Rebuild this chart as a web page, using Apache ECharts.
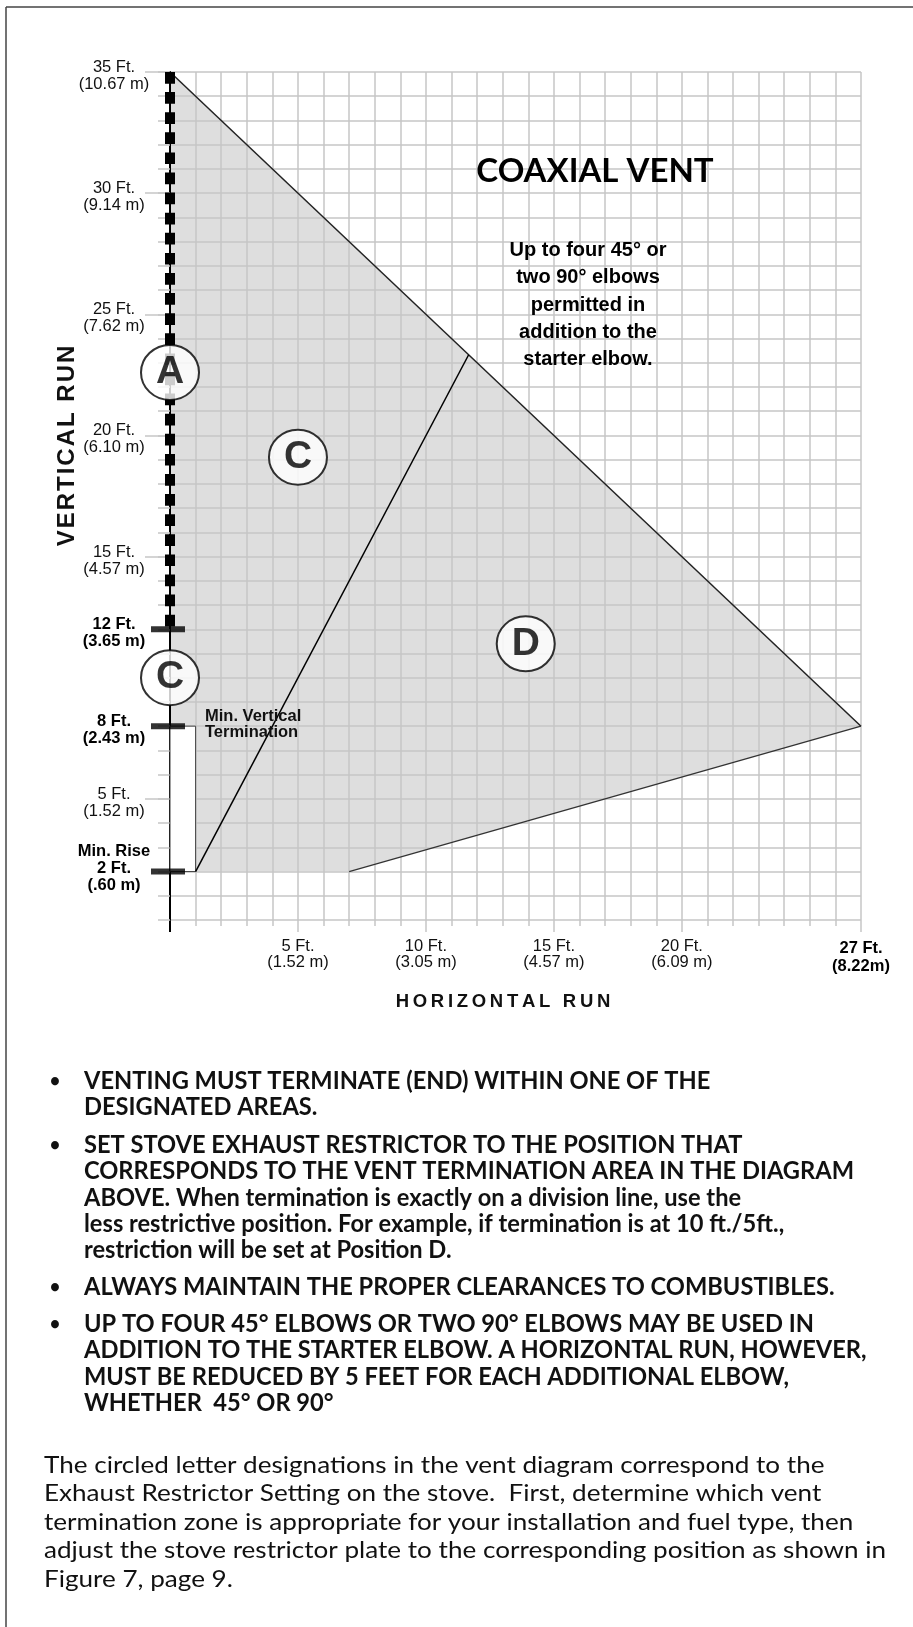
<!DOCTYPE html>
<html>
<head>
<meta charset="utf-8">
<title>Coaxial Vent</title>
<script src="https://cdn.jsdelivr.net/npm/echarts@6/dist/echarts.min.js"></script>
<style>
  html, body { margin: 0; padding: 0; background: #fff; }
  #chart { width: 913px; height: 1627px; }
</style>
</head>
<body>
<div id="chart"></div>
<script>
// vertical run labels (feet + metres)
var yLabelFt = [35, 30, 25, 20, 15, 12, 8, 5, 2];
var yLabelM = ['10.67 m', '9.14 m', '7.62 m', '6.10 m', '4.57 m', '3.65 m', '2.43 m', '1.52 m', '.60 m'];
var yMajorTicks = [35, 30, 25, 20, 15, 5];
// horizontal run labels
var xLabelFt = [5, 10, 15, 20, 27];
var xLabelM = ['1.52 m', '3.05 m', '4.57 m', '6.09 m', '8.22m'];
var xMajorTicks = [5, 10, 15, 20, 27];

// shaded termination area, in feet
var areaX = [0, 27, 7, 1, 1, 0];
var areaY = [35, 8, 2, 2, 8, 8];
// upper limit line
var limitX = [0, 27];
var limitY = [35, 8];
// lower limit line
var lowerX = [7, 27];
var lowerY = [2, 8];
// C / D division line
var divideX = [1, 11.67];
var divideY = [2, 23.33];
// min. vertical termination box
var minTermX = [0, 1];
var minTermY = [2, 8];
// zone A on the vertical run
var zoneAY = [35, 12];
// heavy marks on the vertical run
var heavyTicks = [12, 8, 2];
// circled letters
var circleLetters = ['A', 'C', 'C', 'D'];
var circleX = [0, 0, 5, 13.9];
var circleY = [22.6, 10, 19.1, 11.4];

var noteLines = ['Up to four 45\u00b0 or', 'two 90\u00b0 elbows', 'permitted in', 'addition to the', 'starter elbow.'];
var bullets = [
  ['VENTING MUST TERMINATE (END) WITHIN ONE OF THE', 'DESIGNATED AREAS.'],
  ['SET STOVE EXHAUST RESTRICTOR TO THE POSITION THAT',
   'CORRESPONDS TO THE VENT TERMINATION AREA IN THE DIAGRAM',
   'ABOVE. When termination is exactly on a division line, use the',
   'less restrictive position. For example, if termination is at 10 ft./5ft.,',
   'restriction will be set at Position D.'],
  ['ALWAYS MAINTAIN THE PROPER CLEARANCES TO COMBUSTIBLES.'],
  ['UP TO FOUR 45\u00b0 ELBOWS OR TWO 90\u00b0 ELBOWS MAY BE USED IN',
   'ADDITION TO THE STARTER ELBOW. A HORIZONTAL RUN, HOWEVER,',
   'MUST BE REDUCED BY 5 FEET FOR EACH ADDITIONAL ELBOW,',
   'WHETHER  45\u00b0 OR 90\u00b0']
];
var paragraph = [
  'The circled letter designations in the vent diagram correspond to the',
  'Exhaust Restrictor Setting on the stove.  First, determine which vent',
  'termination zone is appropriate for your installation and fuel type, then',
  'adjust the stove restrictor plate to the corresponding position as shown in',
  'Figure 7, page 9.'
];

var gridColor = '#c6c6c6';
var labelFont = '"Liberation Sans", Arial, sans-serif';
var bodyFont = 'Lato, "Open Sans", sans-serif';

function zip(xs, ys) {
  return xs.map(function (x, i) { return [x, ys[i]]; });
}

function yLabel(v) {
  var i = yLabelFt.indexOf(v);
  if (i < 0) return '';
  var t = heavyTicks.indexOf(v) >= 0 ? 'b' : 'r';
  var s = '{' + t + '|' + v + ' Ft.}\n{' + t + '|(' + yLabelM[i] + ')}';
  if (v === 2) s = '{b|Min. Rise}\n' + s + '\n{gap| }';
  return s;
}

function xLabel(v) {
  var i = xLabelFt.indexOf(v);
  if (i < 0) return '';
  var t = v === 27 ? 'b' : 'r';
  return '{' + t + '|' + v + ' Ft.}\n{' + t + '|(' + xLabelM[i] + ')}';
}

function spaced(str, sep) {
  return str.split('').join(sep);
}

var myChart = echarts.init(document.getElementById('chart'));

var graphics = [
  { type: 'line', shape: { x1: 6, y1: 7, x2: 913, y2: 7 }, style: { stroke: '#444', lineWidth: 1.5 } },
  { type: 'line', shape: { x1: 6, y1: 7, x2: 6, y2: 1627 }, style: { stroke: '#444', lineWidth: 1.5 } },
  { type: 'text', x: 595, y: 171, z: 10,
    style: { text: 'COAXIAL VENT', fontSize: 33, fontWeight: 'bold', fontFamily: bodyFont,
             fill: '#000', align: 'center', verticalAlign: 'middle' } },
  { type: 'text', x: 588, y: 237, z: 10,
    style: { text: noteLines.join('\n'), fontSize: 20, fontWeight: 'bold', fontFamily: labelFont,
             lineHeight: 27.3, fill: '#000', align: 'center', verticalAlign: 'top' } },
  { type: 'text', x: 205, y: 708, z: 10,
    style: { text: 'Min. Vertical\nTermination', fontSize: 16.5, fontWeight: 'bold', fontFamily: labelFont,
             lineHeight: 16.5, fill: '#111', align: 'left', verticalAlign: 'top' } },
  { type: 'text', x: 67, y: 446, rotation: Math.PI / 2, z: 10,
    style: { text: spaced('VERTICAL RUN', '\u200A'), fontSize: 24, fontWeight: 'bold', fontFamily: labelFont,
             fill: '#111', align: 'center', verticalAlign: 'middle' } },
  { type: 'text', x: 503, y: 1002, z: 10,
    style: { text: spaced('HORIZONTAL RUN', '\u2009'), fontSize: 18.5, fontWeight: 'bold', fontFamily: labelFont,
             fill: '#111', align: 'center', verticalAlign: 'middle' } }
];

var bulletTops = [1081, 1145, 1287, 1324];
bullets.forEach(function (lines, i) {
  graphics.push({ type: 'text', x: 55, y: bulletTops[i], z: 10,
    style: { text: '\u2022', fontSize: 18, fontWeight: 'bold', fontFamily: bodyFont,
             fill: '#111', align: 'center', verticalAlign: 'middle' } });
  graphics.push({ type: 'text', x: 84, y: bulletTops[i] - 13.2, z: 10, scaleX: 0.985,
    style: { text: lines.join('\n'), fontSize: 24, fontWeight: 'bold', fontFamily: bodyFont,
             lineHeight: 26.4, fill: '#111', align: 'left', verticalAlign: 'top' } });
});
graphics.push({ type: 'text', x: 44, y: 1465 - 14.25, z: 10, scaleX: 1.087,
  style: { text: paragraph.join('\n'), fontSize: 24, fontFamily: bodyFont,
           lineHeight: 28.5, fill: '#111', align: 'left', verticalAlign: 'top' } });

var option = {
  animation: false,
  backgroundColor: '#fff',
  grid: { left: 170, top: 72, width: 691, height: 848 },
  xAxis: [
    {
      type: 'value', position: 'bottom', min: 0, max: 27, interval: 1,
      axisLine: { show: false },
      axisTick: { show: true, length: 6, lineStyle: { color: gridColor, width: 1.5 } },
      splitLine: { show: true, lineStyle: { color: gridColor, width: 1.5 } },
      axisLabel: {
        customValues: xLabelFt, formatter: xLabel, margin: 19,
        rich: {
          r: { fontSize: 16.5, lineHeight: 15.5, fontFamily: labelFont, color: '#111' },
          b: { fontSize: 16.5, lineHeight: 18, fontWeight: 'bold', fontFamily: labelFont, color: '#000' }
        }
      }
    },
    {
      type: 'value', position: 'bottom', min: 0, max: 27, interval: 1,
      axisLine: { show: false }, splitLine: { show: false }, axisLabel: { show: false },
      axisTick: { show: true, customValues: xMajorTicks, length: 12, lineStyle: { color: gridColor, width: 1.5 } }
    },
    {
      type: 'value', position: 'bottom', min: 0, max: 27, interval: 1,
      axisLine: { show: false }, splitLine: { show: false }, axisLabel: { show: false },
      axisTick: { show: true, customValues: [0], length: 12, lineStyle: { color: '#000', width: 2 } }
    }
  ],
  yAxis: [
    {
      type: 'value', position: 'left', min: 0, max: 35, interval: 1, z: 1,
      axisLine: { show: true, lineStyle: { color: '#000', width: 2 } },
      axisTick: { show: true, length: 12, lineStyle: { color: gridColor, width: 1.5 } },
      splitLine: { show: true, lineStyle: { color: gridColor, width: 1.5 } },
      axisLabel: {
        customValues: yLabelFt, formatter: yLabel, align: 'center', margin: 56,
        padding: [8, 0, 0, 0],
        rich: {
          r: { fontSize: 16.5, lineHeight: 17, fontFamily: labelFont, color: '#111', align: 'center' },
          b: { fontSize: 16.5, lineHeight: 17, fontWeight: 'bold', fontFamily: labelFont, color: '#000', align: 'center' },
          gap: { fontSize: 10, lineHeight: 15 }
        }
      }
    },
    {
      type: 'value', position: 'left', min: 0, max: 35, interval: 1,
      axisLine: { show: false }, splitLine: { show: false }, axisLabel: { show: false },
      axisTick: { show: true, customValues: yMajorTicks, length: 25, lineStyle: { color: gridColor, width: 1.5 } }
    }
  ],
  series: [
    {
      // shaded area, under the grid lines
      type: 'custom', z: -1, silent: true,
      data: [[0, 0]],
      renderItem: function (params, api) {
        return {
          type: 'polygon',
          shape: { points: areaX.map(function (x, i) { return api.coord([x, areaY[i]]); }) },
          style: { fill: '#dedede' }
        };
      }
    },
    {
      // min. vertical termination box
      type: 'custom', z: 3, silent: true,
      data: [[0, 0]],
      renderItem: function (params, api) {
        var p0 = api.coord([minTermX[0], minTermY[1]]);
        var p1 = api.coord([minTermX[1], minTermY[0]]);
        return {
          type: 'rect',
          shape: { x: p0[0], y: p0[1], width: p1[0] - p0[0], height: p1[1] - p0[1] },
          style: { fill: '#fff', stroke: '#444', lineWidth: 1 }
        };
      }
    },
    {
      type: 'line', z: 4, symbol: 'none', clip: false,
      data: zip(limitX, limitY),
      lineStyle: { color: '#222', width: 1.5 }
    },
    {
      type: 'line', z: 4, symbol: 'none', clip: false,
      data: zip(lowerX, lowerY),
      lineStyle: { color: '#333', width: 1.3 }
    },
    {
      type: 'line', z: 4, symbol: 'none', clip: false,
      data: zip(divideX, divideY),
      lineStyle: { color: '#000', width: 1.5 }
    },
    {
      // zone A heavy dashed bar
      type: 'line', z: 5, symbol: 'none', clip: false,
      data: zoneAY.map(function (y) { return [0, y]; }),
      lineStyle: { color: '#000', width: 10, type: [11.7, 8.4] }
    },
    {
      type: 'scatter', z: 6, clip: false, silent: true,
      symbol: 'rect', symbolSize: [34, 6], symbolOffset: [-2, 0],
      itemStyle: { color: '#000' },
      data: heavyTicks.map(function (y) { return [0, y]; })
    },
    {
      type: 'scatter', z: 7, clip: false, silent: true,
      symbol: 'circle', symbolSize: [58, 55],
      itemStyle: { color: '#fff', borderColor: '#000', borderWidth: 2 },
      label: {
        show: true, position: 'inside', formatter: '{b}',
        fontSize: 39, fontWeight: 'bold', fontFamily: labelFont, color: '#000'
      },
      data: circleLetters.map(function (c, i) {
        return { name: c, value: [circleX[i], circleY[i]] };
      })
    }
  ],
  graphic: graphics
};

myChart.setOption(option);
</script>
</body>
</html>
